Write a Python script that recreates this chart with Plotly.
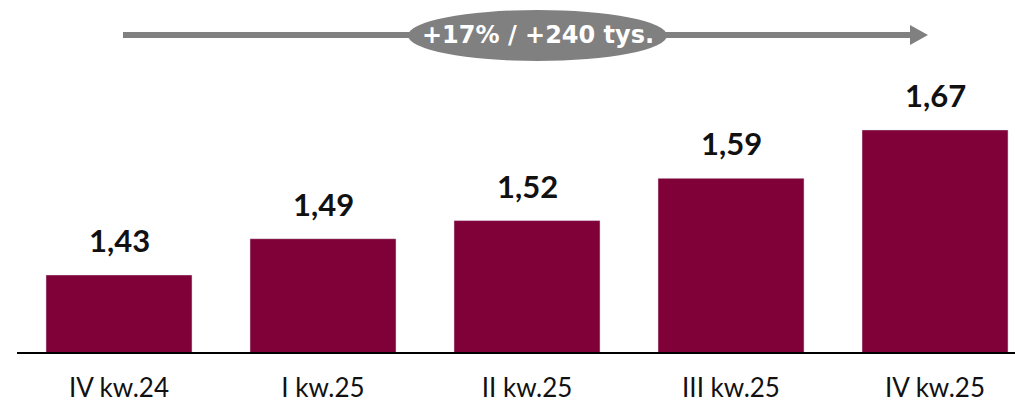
import plotly.graph_objects as go

categories = ["IV kw.24", "I kw.25", "II kw.25", "III kw.25", "IV kw.25"]
values = [1.43, 1.49, 1.52, 1.59, 1.67]
value_labels = ["1,43", "1,49", "1,52", "1,59", "1,67"]
growth_label = "+17% / +240 tys."

W, H = 1015, 404
ML, MR, MT, MB = 17, 0, 0, 52
PW, PH = W - ML - MR, H - MT - MB

def px(x):
    return (x - ML) / PW

def py(y):
    return (H - MB - y) / PH

BAR = "#800038"
GREY = "#808080"
FONT = "Lato"

fig = go.Figure()
fig.add_trace(go.Bar(
    x=categories, y=values, marker_color=BAR, width=0.716,
    hoverinfo="skip", showlegend=False,
))

for c, v, t in zip(categories, values, value_labels):
    fig.add_annotation(
        x=c, y=v, text=t, showarrow=False, yanchor="bottom", yshift=14,
        font=dict(family=FONT, size=31, color="#111111", weight="bold"),
    )

# growth arrow
fig.add_shape(type="line", xref="paper", yref="paper",
              x0=px(123), x1=px(912), y0=py(35), y1=py(35),
              line=dict(color=GREY, width=6))
fig.add_shape(type="path", xref="paper", yref="paper",
              path=f"M {px(910)} {py(25)} L {px(928)} {py(35)} L {px(910)} {py(45)} Z",
              fillcolor=GREY, line=dict(width=0))
fig.add_shape(type="circle", xref="paper", yref="paper",
              x0=px(408), x1=px(667), y0=py(61), y1=py(10),
              fillcolor=GREY, line=dict(width=0))
fig.add_annotation(xref="paper", yref="paper", x=px(537.5), y=py(35),
                   xanchor="center", yanchor="middle",
                   text=growth_label, showarrow=False,
                   font=dict(family="DejaVu Sans", size=24, color="white", weight="bold"))

fig.update_layout(
    width=W, height=H,
    margin=dict(l=ML, r=MR, t=MT, b=MB),
    plot_bgcolor="white", paper_bgcolor="white",
    bargap=0.284,
    xaxis=dict(range=[-0.5, 4.392], showline=True, linecolor="black", linewidth=1.5,
               ticks="", showgrid=False, ticklabelstandoff=12, automargin=False,
               tickfont=dict(family=FONT, size=26, color="#111111")),
    yaxis=dict(range=[1.3025, 1.885], visible=False, showgrid=False, automargin=False),
)

fig.write_html("out.html", config={"displayModeBar": False},
               post_script="document.body.style.margin='0';")
